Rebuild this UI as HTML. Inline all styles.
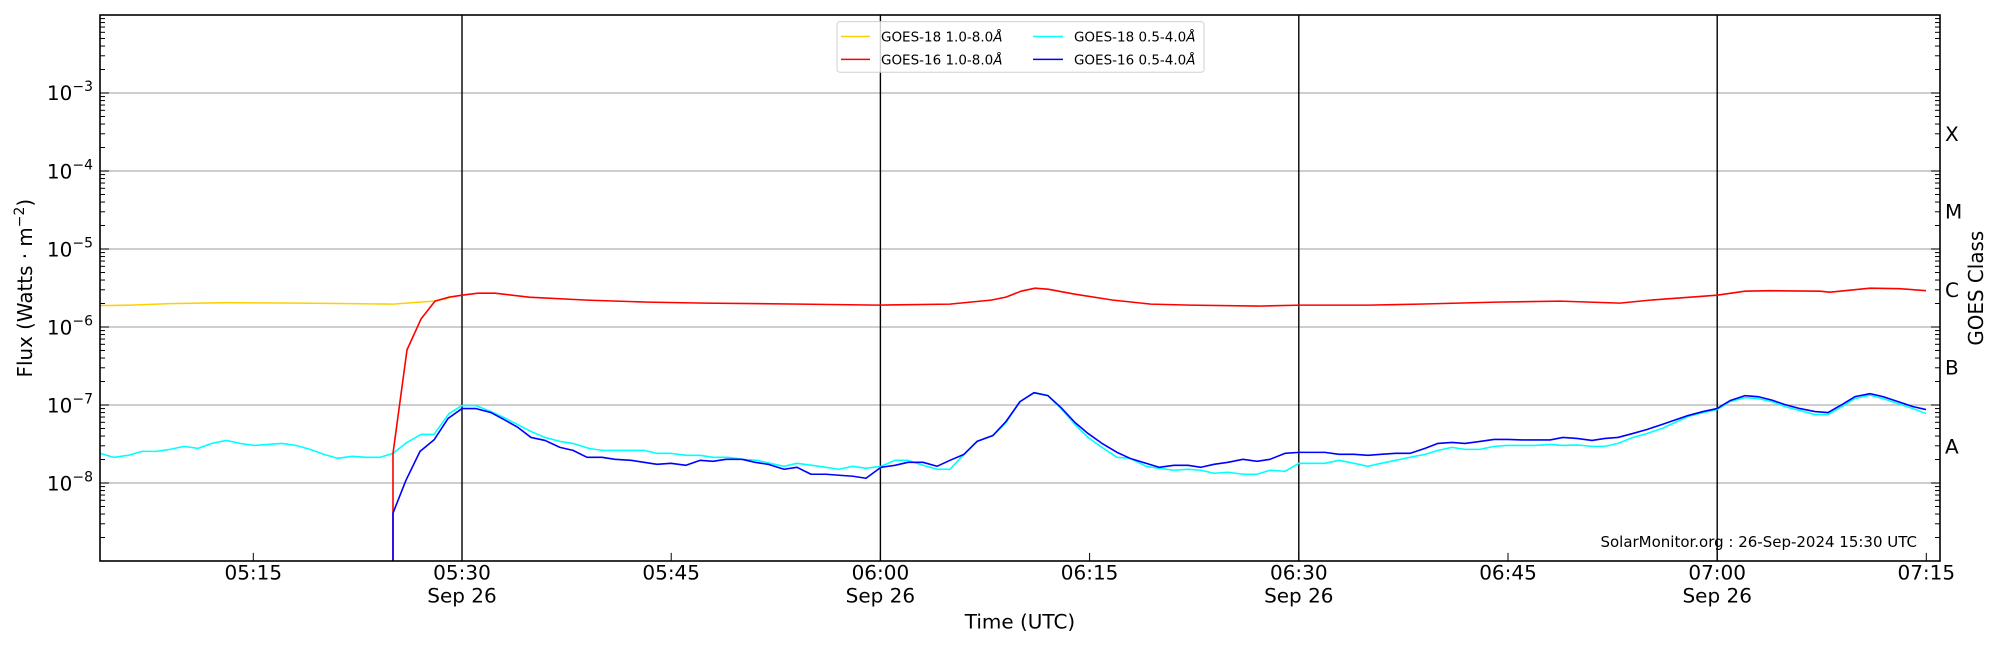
<!DOCTYPE html>
<html><head><meta charset="utf-8"><style>
html,body{margin:0;padding:0;background:#fff;}
svg{display:block;font-family:"DejaVu Sans","Liberation Sans",sans-serif;}
</style></head><body>
<svg width="2000" height="650" viewBox="0 0 2000 650" xmlns="http://www.w3.org/2000/svg">
<defs>
<g id="decL" stroke="#000" stroke-width="1">
<line x1="0" y1="0" x2="9" y2="0"/>
<line x1="0" y1="-23.6" x2="5" y2="-23.6"/><line x1="0" y1="-37.4" x2="5" y2="-37.4"/>
<line x1="0" y1="-47.2" x2="5" y2="-47.2"/><line x1="0" y1="-54.8" x2="5" y2="-54.8"/>
<line x1="0" y1="-61" x2="5" y2="-61"/><line x1="0" y1="-66.3" x2="5" y2="-66.3"/>
<line x1="0" y1="-70.8" x2="5" y2="-70.8"/><line x1="0" y1="-74.8" x2="5" y2="-74.8"/>
</g>
</defs>
<g transform="matrix(1,0,0,0.9949,0,-0.321)">
<!-- grid -->
<g stroke="#b0b0b0" stroke-width="1.2">
<line x1="100" y1="93.8" x2="1940" y2="93.8"/>
<line x1="100" y1="172.2" x2="1940" y2="172.2"/>
<line x1="100" y1="250.6" x2="1940" y2="250.6"/>
<line x1="100" y1="329" x2="1940" y2="329"/>
<line x1="100" y1="407.4" x2="1940" y2="407.4"/>
<line x1="100" y1="485.8" x2="1940" y2="485.8"/>
</g>
<g stroke="#000" stroke-width="1.4">
<line x1="462" y1="15.4" x2="462" y2="564.2"/>
<line x1="880.4" y1="15.4" x2="880.4" y2="564.2"/>
<line x1="1298.8" y1="15.4" x2="1298.8" y2="564.2"/>
<line x1="1717.2" y1="15.4" x2="1717.2" y2="564.2"/>
</g>
<!-- series -->
<g fill="none" stroke-width="1.6" stroke-linejoin="round">
<polyline stroke="#ffd000" points="100,307.5 130,307 170,305.5 227,304.6 300,305 350,305.5 393,306 420,304 434,303 449,300"/>
<polyline stroke="#00ffff" points="100,456 114,460 128,458 142,454 156,454 170,452 184,449 198,451 212,446 226,443 240,446 254,448 268,447 282,446 296,448 310,452 324,457 338,461 352,459 366,460 380,460 393,456 407,445 421,437 434,437 449,416 462,408 476,408 491,414 504,420 531,434 545,440 560,444 573,446 589,451 602,453 615,453 631,453 644,453 657,456 671,456 686,458 700,458 713,460 728,460 742,462 757,463 770,466 784,469 797,466 812,468 826,470 839,472 853,469 866,471 881,469 895,463 908,463 923,468 937,472 950,472 964,457 977,444 993,438 1006,425 1020,404 1034,395 1048,398 1061,411 1075,427 1088,440 1102,450 1117,460 1130,461 1146,469 1159,471 1174,473 1188,472 1201,473 1214,476 1228,475 1243,477 1257,477 1270,473 1285,474 1299,466 1312,466 1325,466 1339,463 1354,466 1368,469 1381,466 1396,463 1410,460 1425,457 1438,453 1452,450 1465,452 1480,452 1494,449 1507,448 1522,448 1535,448 1550,447 1563,448 1577,447.5 1592,449 1605,449 1618,446 1633,440 1647,436 1662,431 1675,425 1688,419 1703,415 1717,412 1730,404 1745,400 1758,401 1772,404 1785,409 1800,413 1815,417 1828,417 1842,409 1855,401 1870,397.5 1883,401 1898,406 1913,411 1926,416"/>
<polyline stroke="#ff0000" points="393,564 393,456 407,352 421,321 435,303 449,299 462,297 478,295 495,295 529,299 587,302 648,304 705,305 801,306 878,307 950,306 960,305 991,302 1006,299 1021,293 1035,290 1048,291 1075,296 1113,302 1151,306 1190,307 1258,308 1301,307 1369,307 1419,306 1496,304 1560,303 1620,305 1650,302 1690,299 1717,297 1745,293 1770,292.5 1820,293 1830,294 1870,290 1900,290.5 1926,292.5"/>
<polyline stroke="#0000ff" points="393,564 393,516 406,483 420,454 434,442.5 448,421 462,411 476,411 491,415 504,422 518,430 531,440 545,443 560,450 573,453 587,460 602,460 615,462 631,463 644,465 657,467 671,466 686,468 700,463 713,464 726,462 742,462 755,465 768,467 784,472 797,470 811,477 826,477 839,478 853,479 866,481 881,470 895,468 908,465 923,465 937,469 950,463 964,457 977,444 993,438 1006,424 1020,404 1034,395 1048,398 1061,410 1075,425 1088,436 1102,446 1117,455 1130,461 1146,466 1159,470 1174,468 1188,468 1201,470 1214,467 1228,465 1243,462 1257,464 1270,462 1285,456 1299,455 1312,455 1325,455 1339,457 1354,457 1368,458 1381,457 1396,456 1410,456 1425,451 1438,446 1452,445 1465,446 1480,444 1494,442 1508,442 1522,442.5 1550,442.5 1563,440 1577,441 1592,443 1605,441 1618,440 1633,436 1647,432 1662,427 1675,422.5 1688,418 1703,414 1717,411 1730,403 1745,398 1758,399 1772,402.5 1785,407 1800,411 1815,414 1828,415 1842,407 1855,399 1870,396 1883,399 1898,404 1913,409 1926,412"/>
</g>
<!-- axes frame -->
<rect x="100" y="15.4" width="1840" height="548.8" fill="none" stroke="#000" stroke-width="1.6"/>
<!-- y ticks -->
<use href="#decL" x="100" y="564.2"/><use href="#decL" x="100" y="485.8"/><use href="#decL" x="100" y="407.4"/>
<use href="#decL" x="100" y="329"/><use href="#decL" x="100" y="250.6"/><use href="#decL" x="100" y="172.2"/>
<use href="#decL" x="100" y="93.8"/>
<g transform="translate(1940,0) scale(-1,1)">
<use href="#decL" x="0" y="564.2"/><use href="#decL" x="0" y="485.8"/><use href="#decL" x="0" y="407.4"/>
<use href="#decL" x="0" y="329"/><use href="#decL" x="0" y="250.6"/><use href="#decL" x="0" y="172.2"/>
<use href="#decL" x="0" y="93.8"/>
</g>
<!-- x ticks -->
<g stroke="#000" stroke-width="1">
<line x1="253.3" y1="564" x2="253.3" y2="556"/><line x1="671.2" y1="564" x2="671.2" y2="556"/>
<line x1="1089.6" y1="564" x2="1089.6" y2="556"/><line x1="1508" y1="564" x2="1508" y2="556"/>
<line x1="1926.3" y1="564" x2="1926.3" y2="556"/>
<line x1="462" y1="564" x2="462" y2="556"/><line x1="880.4" y1="564" x2="880.4" y2="556"/>
<line x1="1298.8" y1="564" x2="1298.8" y2="556"/><line x1="1717.2" y1="564" x2="1717.2" y2="556"/>
</g>
<!-- y labels -->
<g font-size="20" text-anchor="end" fill="#000">
<text x="93" y="101">10<tspan font-size="14" dy="-9">−3</tspan></text>
<text x="93" y="179.5">10<tspan font-size="14" dy="-9">−4</tspan></text>
<text x="93" y="258">10<tspan font-size="14" dy="-9">−5</tspan></text>
<text x="93" y="336.5">10<tspan font-size="14" dy="-9">−6</tspan></text>
<text x="93" y="415">10<tspan font-size="14" dy="-9">−7</tspan></text>
<text x="93" y="493.5">10<tspan font-size="14" dy="-9">−8</tspan></text>
</g>
<!-- x labels -->
<g font-size="20" text-anchor="middle" fill="#000">
<text x="253.3" y="583">05:15</text>
<text x="462" y="583">05:30</text><text x="462" y="606">Sep 26</text>
<text x="671.2" y="583">05:45</text>
<text x="880.4" y="583">06:00</text><text x="880.4" y="606">Sep 26</text>
<text x="1089.6" y="583">06:15</text>
<text x="1298.8" y="583">06:30</text><text x="1298.8" y="606">Sep 26</text>
<text x="1508" y="583">06:45</text>
<text x="1717.2" y="583">07:00</text><text x="1717.2" y="606">Sep 26</text>
<text x="1926.3" y="583">07:15</text>
<text x="1020" y="632">Time (UTC)</text>
</g>
<text font-size="20" text-anchor="middle" transform="translate(32,290) rotate(-90)">Flux (Watts · m<tspan font-size="14" dy="-8">−2</tspan><tspan dy="8">)</tspan></text>
<text font-size="20" text-anchor="middle" transform="translate(1983,290) rotate(-90)">GOES Class</text>
<g font-size="20" fill="#000">
<text x="1945" y="142">X</text><text x="1945" y="220">M</text><text x="1945" y="299">C</text>
<text x="1945" y="377">B</text><text x="1945" y="456">A</text>
</g>
<text x="1917" y="550" font-size="15" text-anchor="end">SolarMonitor.org : 26-Sep-2024 15:30 UTC</text>
<!-- legend -->
<rect x="837" y="22" width="367" height="51" rx="3" fill="#fff" fill-opacity="0.8" stroke="#d0d0d0" stroke-width="1"/>
<g stroke-width="1.6">
<line x1="841" y1="37" x2="870" y2="37" stroke="#ffd000"/>
<line x1="841" y1="60" x2="870" y2="60" stroke="#ff0000"/>
<line x1="1033" y1="37" x2="1063" y2="37" stroke="#00ffff"/>
<line x1="1033" y1="60" x2="1063" y2="60" stroke="#0000ff"/>
</g>
<g font-size="13.5" fill="#000">
<text x="881" y="42">GOES-18 1.0-8.0<tspan font-style="italic">Å</tspan></text>
<text x="881" y="65">GOES-16 1.0-8.0<tspan font-style="italic">Å</tspan></text>
<text x="1074" y="42">GOES-18 0.5-4.0<tspan font-style="italic">Å</tspan></text>
<text x="1074" y="65">GOES-16 0.5-4.0<tspan font-style="italic">Å</tspan></text>
</g>
</g>
</svg>
</body></html>
